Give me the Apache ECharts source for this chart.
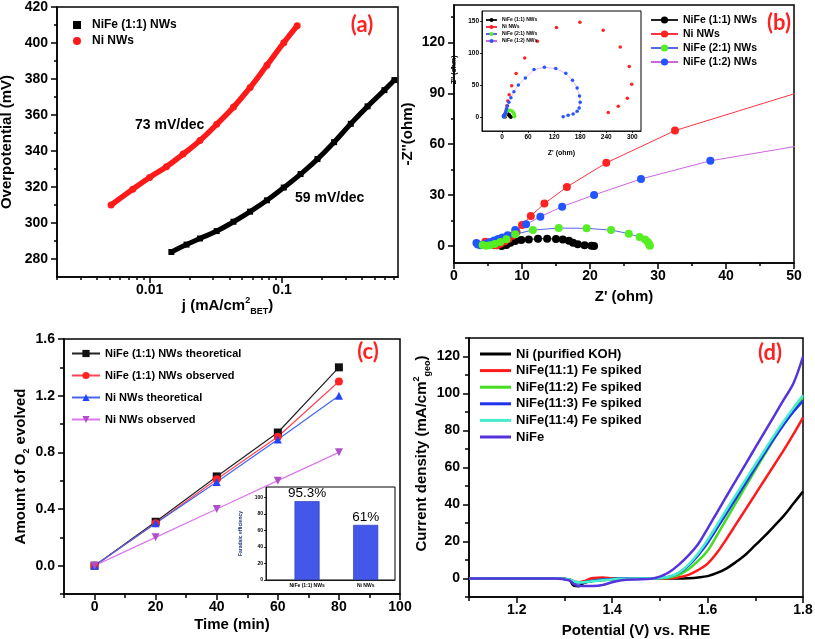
<!DOCTYPE html>
<html><head><meta charset="utf-8">
<script src="https://cdn.jsdelivr.net/npm/echarts@6/dist/echarts.min.js"></script>
<style>html,body{margin:0;padding:0;background:#fff}#c{width:815px;height:639px}</style>
</head><body><div id="c"></div>
<script>
// ---------- (a) Tafel ----------
const aNiFeJ   = [0.0146,0.0190,0.0240,0.0321,0.0430,0.0574,0.0769,0.103,0.138,0.185,0.247,0.330,0.442,0.592,0.705];
const aNiFeEta = [283.9,288.0,291.4,295.5,300.7,306.3,312.6,319.7,327.2,335.5,344.9,355.1,364.8,373.8,379.4];
const aNiJ     = [0.00512,0.00746,0.0100,0.0134,0.0179,0.0240,0.0321,0.0430,0.0574,0.0769,0.103,0.130];
const aNiEta   = [310.0,318.8,325.3,331.3,338.3,345.8,354.8,364.4,375.3,387.7,400.2,409.6];
const aXLabels = [0.01, 0.1];
const aXMinor  = [0.002,0.003,0.004,0.005,0.006,0.007,0.008,0.009,0.02,0.03,0.04,0.05,0.06,0.07,0.08,0.09,0.2,0.3,0.4,0.5,0.6,0.7];
const aYTicks  = [280,300,320,340,360,380,400,420];
// ---------- (b) Nyquist ----------
const bNiFe11 = [[7.0,0],[7.7,0.6],[8.3,2],[9.0,2.9],[9.9,3.5],[11.0,3.9],[12.35,4.3],[13.7,4.3],[15.0,4.2],[16.0,3.9],[16.9,3.1],[17.5,2.0],[18.2,1.0],[19.2,0.4],[20.2,0.1],[20.6,0]];
const bNi     = [[4.6,2.5],[5.2,1.2],[5.8,0.4],[6.3,0.5],[6.8,1.3],[7.4,2.6],[8.0,4.1],[8.6,6.0],[9.2,8.3],[10.0,12.4],[11.3,17.7],[13.3,25.0],[16.6,34.8],[22.4,49.0],[32.5,68.0],[52.3,92.5],[81.5,118.6],[125.4,140.0],[179.2,148.4],[233,135.8],[272.3,109.7],[293,78.9],[298.5,51.2],[288.5,29.3],[267.7,16.7],[244.6,6.8]];
const bNiFe21 = [[4.2,0.6],[4.7,0.1],[5.3,0.4],[6.0,1.2],[6.8,2.4],[7.7,4.0],[9.0,7.0],[11.6,9.4],[15.4,10.6],[19.5,10.4],[23.1,9.4],[25.7,7.3],[27.3,5.3],[28.1,3.9],[28.5,2.4],[28.7,1.0],[28.8,0.2]];
const bNiFe12 = [[3.3,1.8],[3.5,0.9],[3.9,0.5],[4.3,0.8],[4.8,1.5],[5.3,2.3],[5.9,3.2],[6.5,4.1],[7.1,5.0],[7.9,6.3],[9.0,9.4],[10.6,12.8],[12.7,17.3],[15.9,23.2],[20.6,30.1],[27.5,39.5],[37.7,50.2],[53.8,61.1],[73.8,74.2],[97.7,77.8],[123.8,75.8],[146.9,68.4],[162.3,57.5],[173,45.5],[178.5,32.9],[180,23],[177.7,14.1],[173,8.9],[163.8,4.7],[152.3,2.6],[140.8,0.5]];
const bNames  = ['NiFe (1:1) NWs','Ni NWs','NiFe (2:1) NWs','NiFe (1:2) NWs'];
const bXTicks = [0,10,20,30,40,50];
const bXMinor = [5,15,25,35,45];
const bYTicks = [0,30,60,90,120];
const bYMinor = [15,45,75,105,135];
const bInXTicks = [0,60,120,180,240,300];
const bInYTicks = [0,50,100,150];
// ---------- (c) O2 evolution ----------
const cTime     = [0,20,40,60,80];
const cNiFeTheo = [0,0.31,0.63,0.94,1.40];
const cNiFeObs  = [0,0.30,0.61,0.91,1.30];
const cNiTheo   = [0,0.30,0.59,0.89,1.20];
const cNiObs    = [0,0.20,0.40,0.60,0.80];
const cNames    = ['NiFe (1:1) NWs theoretical','NiFe (1:1) NWs observed','Ni NWs theoretical','Ni NWs observed'];
const cXTicks   = [0,20,40,60,80,100];
const cXMinor   = [-10,10,30,50,70,90];
const cYTicks   = [0,0.4,0.8,1.2,1.6];
const cYMinor   = [-0.2,0.2,0.6,1.0,1.4];
const cBarCats  = ['NiFe (1:1) NWs','Ni NWs'];
const cBarVals  = [95.3, 66.6];
const cBarText  = ['95.3%','61%'];
const cBarYTicks= [0,20,40,60,80,100];
// ---------- (d) LSV ----------
const dV     = [1.10,1.20,1.28,1.31,1.32,1.33,1.34,1.36,1.38,1.40,1.42,1.45,1.48,1.50,1.52,1.54,1.56,1.58,1.60,1.62,1.64,1.66,1.68,1.70,1.72,1.74,1.76,1.78,1.80];
const dNi    = [0,0,0,-0.8,-4,-4.2,-2.5,-1.2,-0.8,-0.5,-0.3,-0.2,0, 0,0,0,0.2,0.6,1.3,3,5.5,9,13,18,23,28.5,34,40.5,47];
const d111   = [0,0,0,-0.5,-1.5,-2,-1.5,0.3,0.5,0.2,0,0,0, 0,0.1,0.7,2,4.5,8,14,21.5,29.5,37.5,45.5,53.5,61.5,69.5,78,87];
const d112   = [0,0,0,-0.5,-1.8,-2.5,-2,-1.2,-0.6,-0.3,0,0,0, 0.1,0.5,2,5,9.5,15,23.5,32.3,41.1,49.9,58.6,67.2,75.6,83.6,91,98];
const d113   = [0,0,0,-0.5,-1.8,-2.5,-2,-1.2,-0.6,-0.3,0,0,0, 0.2,1,3,7,12.5,19.2,27.2,35.3,43.5,51.7,59.9,68,75.9,83.4,90.1,96];
const d114   = [0,0,0,-0.5,-1.5,-2.2,-2,-1.5,-1,-0.5,-0.2,0,0, 0.3,1,3.2,7.5,13.5,20.8,29,37.3,45.5,53.6,61.6,69.6,77.5,85.1,92.2,99];
const dNiFe  = [0,0,0,-1,-3,-4,-4,-4,-3.5,-2,-1,-0.5,-0.2, 1,3.5,7.5,12.5,18.5,27,35.8,44.6,53.3,62,70.7,79.4,88.1,96.8,105.5,120];
const dNames = ['Ni (purified KOH)','NiFe(11:1) Fe spiked','NiFe(11:2) Fe spiked','NiFe(11:3) Fe spiked','NiFe(11:4) Fe spiked','NiFe'];
const dXTicks = [1.2,1.4,1.6,1.8];
const dXMinor = [1.1,1.3,1.5,1.7];
const dYTicks = [0,20,40,60,80,100,120];
const dYMinor = [-10,10,30,50,70,90,110,130];

const F = 'Liberation Sans, Arial, Helvetica, sans-serif';
function grid(l,t,w,h,bw,bg){return {left:l,top:t,width:w,height:h,show:true,borderColor:'#000',borderWidth:bw,backgroundColor:bg||'transparent',outerBoundsMode:'none'};}
function axis(dim, gi, min, max, tickVals, labelVals, fmt, o){
  o = o || {};
  const lw = o.lw || 1.5;
  return {
    type: o.type || 'value', gridIndex: gi, min: min, max: max, position: dim === 'x' ? 'bottom' : 'left',
    name: o.name || '', nameLocation: 'middle', nameGap: o.nameGap || 20,
    nameTextStyle: {color:'#000', fontFamily:F, fontWeight:'bold', fontSize:o.nameSize||15, lineHeight:o.nameLH||20, rich:o.rich||{}},
    axisLine: {show: o.line !== false, onZero:false, lineStyle:{color:'#000', width:lw}},
    axisTick: tickVals.length ? {show:true, inside:false, length:o.tl||6, customValues:tickVals, lineStyle:{color:'#000', width:lw}} : {show:false},
    axisLabel: labelVals.length ? {show:true, customValues:labelVals, formatter:fmt, color:'#000', fontFamily:F, fontWeight:'bold', fontSize:o.fs||14, margin:o.margin==null?6:o.margin} : {show:false},
    splitLine: {show:false}, axisPointer: {show:false}, silent: true
  };
}
const sup = {fontSize:9, fontWeight:'bold', fontFamily:F, color:'#000', verticalAlign:'top', lineHeight:9};
const sub = {fontSize:9, fontWeight:'bold', fontFamily:F, color:'#000', verticalAlign:'bottom', lineHeight:9};
const L10 = Math.log10;
const id = v => v;

const xAxis = [
  Object.assign(axis('x',0,0.002,0.75,[],[],null,{type:'log', name:'j (mA/cm{sup|2}{sub|BET})', nameGap:19, rich:{sup:sup, sub:sub}}), {logBase:10}),
  axis('x',0,L10(0.002),L10(0.75),aXLabels.map(L10),aXLabels.map(L10),v=>String(aXLabels[Math.round(v)+2]),{line:false}),
  axis('x',0,L10(0.002),L10(0.75),aXMinor.map(L10),[],null,{line:false,tl:3}),
  axis('x',1,0,50,bXTicks,bXTicks,id,{name:"Z' (ohm)", nameGap:24}),
  axis('x',1,0,50,bXMinor,[],null,{line:false,tl:3}),
  axis('x',2,-46,320,bInXTicks,bInXTicks,id,{name:"Z' (ohm)", nameGap:12, nameSize:7, fs:6.5, tl:2, lw:0.8, margin:3}),
  axis('x',3,-10,100,cXTicks,cXTicks,id,{name:'Time (min)', nameGap:21}),
  axis('x',3,-10,100,cXMinor,[],null,{line:false,tl:4}),
  axis('x',4,0.3,2.5,[],[1,2],v=>cBarCats[Math.round(v)-1],{fs:5, margin:3, lw:0.8}),
  axis('x',5,1.1,1.8,dXTicks,dXTicks,v=>v.toFixed(1),{name:'Potential (V) vs. RHE', nameGap:24}),
  axis('x',5,1.1,1.8,dXMinor,[],null,{line:false,tl:4})
];
const yAxis = [
  axis('y',0,270,420,aYTicks,aYTicks,id,{name:'Overpotential (mV)', nameGap:40, margin:9}),
  axis('y',0,270,420,[290,310,330,350,370,390,410],[],null,{line:false,tl:3}),
  axis('y',1,-10,142,bYTicks,bYTicks,id,{name:"-Z''(ohm)", nameGap:24, margin:9}),
  axis('y',1,-10,142,bYMinor,[],null,{line:false,tl:3}),
  axis('y',2,-22,166,bInYTicks,bInYTicks,id,{name:"-Z'' (ohm)", nameGap:17, nameSize:7, fs:6.5, tl:2, lw:0.8, margin:3}),
  axis('y',3,-0.2,1.6,cYTicks,cYTicks,v=>v.toFixed(1),{name:'Amount of O{sub|2} evolved', nameGap:33, margin:9, rich:{sub:sub}}),
  axis('y',3,-0.2,1.6,cYMinor,[],null,{line:false,tl:4}),
  axis('y',4,0,112.5,cBarYTicks,cBarYTicks,id,{name:'Faradaic efficiency', nameGap:10, nameSize:5, fs:5, tl:2, lw:0.8, margin:3}),
  axis('y',5,-10,130,dYTicks,dYTicks,id,{name:'Current density (mA/cm{sup|2}{sub|geo})', nameGap:37, margin:9, rich:{sup:sup, sub:sub}}),
  axis('y',5,-10,130,dYMinor,[],null,{line:false,tl:4})
];
yAxis[7].nameTextStyle.color = '#223388';
yAxis[8].nameTextStyle.padding = [0,0,0,28];

const series = [];
function pairs(xs, ys){ return xs.map((x,i)=>[x, ys[i]]); }
series.push({name:'a:NiFe (1:1) NWs', type:'line', xAxisIndex:0, yAxisIndex:0, data:pairs(aNiFeJ,aNiFeEta), smooth:true, symbol:'rect', symbolSize:6, lineStyle:{color:'#000', width:5}, itemStyle:{color:'#000'}});
series.push({name:'a:Ni NWs', type:'line', xAxisIndex:0, yAxisIndex:0, data:pairs(aNiJ,aNiEta), smooth:true, symbol:'circle', symbolSize:7, lineStyle:{color:'#ff1a1a', width:5.5}, itemStyle:{color:'#ff1a1a'}});
const bData  = [bNiFe11, bNi, bNiFe21, bNiFe12];
const bMark  = ['#000000','#ff2222','#55ee22','#2255ff'];
const bLine  = ['#222222','#ff3344','#5566ee','#cc66dd'];
bData.forEach((d,i)=>{
  series.push({name:'b:'+bNames[i], type:'line', xAxisIndex:3, yAxisIndex:2, data:d, symbol:'circle', symbolSize:8, showAllSymbol:true, clip:true, lineStyle:{color:bLine[i], width:1}, itemStyle:{color:bMark[i]}, z: i===2?3:2});
  series.push({name:'i:'+bNames[i], type:'line', xAxisIndex:5, yAxisIndex:4, data:d, symbol:'circle', symbolSize:3.5, showAllSymbol:true, clip:true, lineStyle:{color:bLine[i], width:0.6, opacity:(i===1?0:0.8)}, itemStyle:{color:bMark[i]}});
});
const cData = [cNiFeTheo, cNiFeObs, cNiTheo, cNiObs];
const cMark = ['#111111','#ff2222','#2244ff','#b050c8'];
const cLine = ['#222222','#ff4455','#4466ee','#dd77ee'];
const cSym  = ['rect','circle','triangle','path://M0,0 L10,0 L5,9 Z'];
cData.forEach((d,i)=>{
  series.push({name:cNames[i], type:'line', xAxisIndex:6, yAxisIndex:5, data:pairs(cTime,d), symbol:cSym[i], symbolSize:8, lineStyle:{color:cLine[i], width:1.2}, itemStyle:{color:cMark[i]}});
});
series.push({name:'bar', type:'bar', xAxisIndex:8, yAxisIndex:7, data:cBarVals.map((v,i)=>[i+1,v]), barWidth:25,
  itemStyle:{color:'#4358e8', borderColor:'#2233aa', borderWidth:0.6},
  label:{show:true, position:'top', distance:1, formatter:p=>cBarText[p.dataIndex], color:'#000', fontFamily:F, fontSize:13.5}});
const dData = [dNi, d111, d112, d113, d114, dNiFe];
const dCol  = ['#000000','#ff1a1a','#44dd22','#2233ee','#44eecc','#5533dd'];
dData.forEach((d,i)=>{
  series.push({name:dNames[i], type:'line', xAxisIndex:9, yAxisIndex:8, data:pairs(dV,d), symbol:'none', smooth:0.35, lineStyle:{color:dCol[i], width:2.5}, itemStyle:{color:dCol[i]}});
});

const legTxt = (fs, lh) => ({fontFamily:F, fontWeight:'bold', fontSize:fs, color:'#000', lineHeight:lh});
const SQ = 'path://M0,0L10,0L10,10L0,10Z';
const CI = 'path://M0,5a5,5 0 1,0 10,0a5,5 0 1,0 -10,0Z';
const legend = [
  {orient:'vertical', left:73, top:18, padding:0, itemWidth:20, itemHeight:8, itemGap:2, selectedMode:false, symbolKeepAspect:true,
   data:[{name:'a:NiFe (1:1) NWs', icon:SQ},{name:'a:Ni NWs', icon:CI}], formatter:n=>n.slice(2), textStyle:legTxt(12,14)},
  {orient:'vertical', left:650, top:14, padding:0, itemWidth:27, itemHeight:9, itemGap:2, selectedMode:false,
   data:bNames.map(n=>'b:'+n), formatter:n=>n.slice(2), textStyle:legTxt(10.5,12)},
  {orient:'vertical', left:485, top:17, padding:0, itemWidth:11, itemHeight:5, itemGap:1, selectedMode:false,
   data:bNames.map(n=>({name:'i:'+n, lineStyle:{opacity:1}})), formatter:n=>n.slice(2), textStyle:legTxt(5,6)},
  {orient:'vertical', left:71, top:347, padding:0, itemWidth:28, itemHeight:9, itemGap:9, selectedMode:false,
   data:cNames, textStyle:legTxt(11,13)},
  {orient:'vertical', left:480, top:346, padding:0, itemWidth:31, itemHeight:3, itemGap:0.6, selectedMode:false,
   data:dNames.map(n=>({name:n, icon:'rect'})), textStyle:legTxt(13,16)}
];

const txt = (x,y,t,font,fill,align) => ({type:'text', x:x, y:y, silent:true, style:{text:t, font:font, fill:fill||'#000', align:align||'center', verticalAlign:'middle'}});
const PF = 'bold 22px Lato, "Open Sans", sans-serif';
const graphic = [
  txt(362,25,'(a)',PF,'#ff2020'),
  txt(779,23,'(b)',PF,'#ff2020'),
  txt(368,352,'(c)',PF,'#ff2020'),
  txt(770,353,'(d)',PF,'#ff2020'),
  txt(135,125,'73 mV/dec','bold 14px '+F,'#000','left'),
  txt(295,198,'59 mV/dec','bold 14px '+F,'#000','left')
];

const option = {
  animation:false, backgroundColor:'#fff',
  textStyle:{fontFamily:F},
  grid:[grid(57,7,341,270,1.5), grid(454,5,340,258,1.5), grid(482,11,159,120,1,'#fff'), grid(64,339,336,255,1.5), grid(266,487,129,93,1,'#fff'), grid(469,338,334,259,1.5)],
  xAxis:xAxis, yAxis:yAxis, series:series, legend:legend, graphic:graphic, tooltip:{show:false}
};
const chart = echarts.init(document.getElementById('c'), null, {renderer:'canvas'});
chart.setOption(option);
</script></body></html>
